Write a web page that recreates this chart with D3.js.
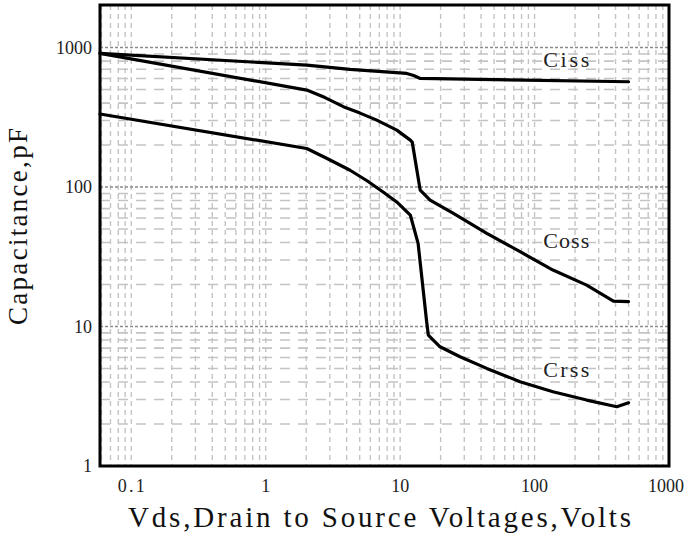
<!DOCTYPE html>
<html>
<head>
<meta charset="utf-8">
<script src="https://cdn.jsdelivr.net/npm/d3@7"></script>
<style>
  body { margin: 0; background: #fff; }
  svg { display: block; }
  text { font-family: "Liberation Serif", "Times New Roman", serif; }
</style>
</head>
<body>
<svg id="chart" width="688" height="537"></svg>
<script>
// values (Vds in volts, capacitance in pF)
const cissV = [0.0585, 2.02, 4.24, 11.2, 12.6, 14.1, 500];
const cissC = [908, 749, 698, 653, 630, 601, 569];

const cossV = [0.0585, 2.02, 2.76, 3.78, 5.03, 6.7, 9.44, 11.9, 12.3, 14.1, 16.7, 24.9, 44.1, 78, 137, 244, 386, 500];
const cossC = [908, 496, 438, 377, 339, 302, 256, 217, 210, 95, 80.7, 64.8, 46.6, 34.4, 25.4, 19.8, 15.2, 15.1];

const crssV = [0.0585, 2.02, 2.91, 4.24, 5.67, 7.6, 9.64, 11.9, 13.6, 15.7, 16.2, 19.8, 27.9, 44.1, 78, 137, 244, 409, 500];
const crssC = [334, 189, 159, 132, 111, 91, 76.8, 63, 39.5, 11.1, 8.69, 7.16, 6.07, 5.01, 4.02, 3.41, 2.97, 2.66, 2.84];

const seriesNames = ["Ciss", "Coss", "Crss"];
const labelV = [116, 116, 116];
const labelC = [725, 36.5, 4.35];

const xTicks = [0.1, 1, 10, 100, 1000];
const yTicks = [1, 10, 100, 1000];

const xTitle = "Vds,Drain to Source Voltages,Volts";
const yTitle = "Capacitance,pF";

const W = 688, H = 537;
const margin = {top: 5, right: 19, bottom: 71, left: 100};

const svg = d3.select("#chart");

const x = d3.scaleLog().domain([0.0585, 1000]).range([margin.left, W - margin.right]);
const y = d3.scaleLog().domain([1, 2020]).range([H - margin.bottom, margin.top]);

const grid = svg.append("g");

// vertical grid, every 1..9 of each decade
grid.selectAll("line.vx").data(x.ticks().filter(d => d > x.domain()[0] && d < 1000))
  .enter().append("line").attr("class", "vx")
  .attr("x1", d => x(d)).attr("x2", d => x(d))
  .attr("y1", margin.top).attr("y2", H - margin.bottom)
  .attr("stroke", "#c4c4c4").attr("stroke-width", 1.4)
  .attr("stroke-dasharray", "5,4");

const isDecade = d => Math.abs(Math.log10(d) - Math.round(Math.log10(d))) < 1e-9;

// horizontal minor grid
grid.selectAll("line.hy").data(y.ticks().filter(d => d > 1 && d < 2000 && !isDecade(d)))
  .enter().append("line").attr("class", "hy")
  .attr("x1", margin.left).attr("x2", W - margin.right)
  .attr("y1", d => y(d)).attr("y2", d => y(d))
  .attr("stroke", "#c4c4c4").attr("stroke-width", 1.6)
  .attr("stroke-dasharray", "10,8");

// horizontal decade lines, darker dots
grid.selectAll("line.hm").data(yTicks.filter(d => d > 1))
  .enter().append("line").attr("class", "hm")
  .attr("x1", margin.left).attr("x2", W - margin.right)
  .attr("y1", d => y(d)).attr("y2", d => y(d))
  .attr("stroke", "#8a8a8a").attr("stroke-width", 1.5)
  .attr("stroke-dasharray", "3,2");

// curves
const line = d3.line()
  .x(d => x(d[0]))
  .y(d => y(d[1]));

const series = [
  d3.zip(cissV, cissC),
  d3.zip(cossV, cossC),
  d3.zip(crssV, crssC)
];

svg.append("g").selectAll("path").data(series).enter().append("path")
  .attr("d", line)
  .attr("fill", "none")
  .attr("stroke", "#000")
  .attr("stroke-width", 3.2)
  .attr("stroke-linejoin", "round")
  .attr("stroke-linecap", "round");

// curve names
svg.append("g").selectAll("text").data(seriesNames).enter().append("text")
  .attr("x", (d, i) => x(labelV[i]))
  .attr("y", (d, i) => y(labelC[i]))
  .attr("font-size", 22)
  .attr("fill", "#222")
  .attr("textLength", 46)
  .attr("lengthAdjust", "spacing")
  .text(d => d);

// frame
svg.append("rect")
  .attr("x", margin.left).attr("y", margin.top)
  .attr("width", W - margin.left - margin.right)
  .attr("height", H - margin.top - margin.bottom)
  .attr("fill", "none").attr("stroke", "#000").attr("stroke-width", 3);

// tick labels
svg.append("g").selectAll("text").data(yTicks).enter().append("text")
  .attr("x", margin.left - 8)
  .attr("y", d => y(d) + 6)
  .attr("text-anchor", "end")
  .attr("font-size", 18)
  .attr("fill", "#222")
  .text(d => d);

svg.append("g").selectAll("text").data(xTicks).enter().append("text")
  .attr("x", d => Math.min(x(d), W - 22))
  .attr("y", H - margin.bottom + 26)
  .attr("text-anchor", "middle")
  .attr("font-size", 18)
  .attr("fill", "#222")
  .each(function(d) { if (d < 1) d3.select(this).attr("textLength", 27).attr("lengthAdjust", "spacing"); })
  .text(d => d);

// axis titles
svg.append("text")
  .attr("x", 128).attr("y", 527)
  .attr("font-size", 29)
  .attr("fill", "#111")
  .attr("textLength", 503)
  .attr("lengthAdjust", "spacing")
  .text(xTitle);

svg.append("text")
  .attr("transform", "translate(27,325) rotate(-90)")
  .attr("font-size", 27)
  .attr("fill", "#111")
  .attr("textLength", 197)
  .attr("lengthAdjust", "spacing")
  .text(yTitle);
</script>
</body>
</html>
